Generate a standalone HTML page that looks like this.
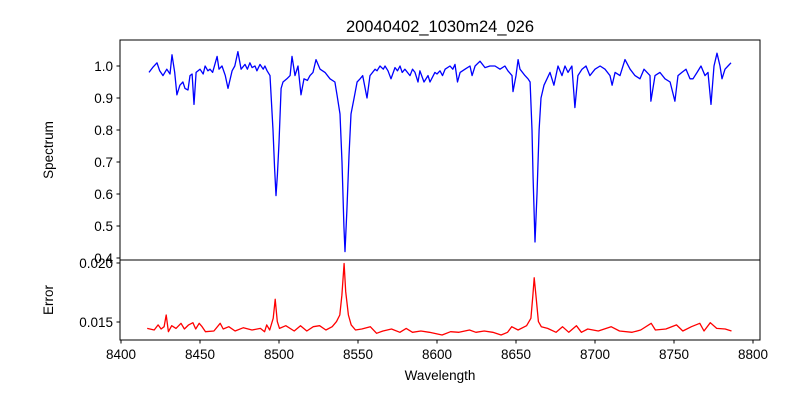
<!DOCTYPE html>
<html><head><meta charset="utf-8"><style>
body{margin:0;background:#fff;}
svg{display:block;font-family:"Liberation Sans","DejaVu Sans",sans-serif;}
</style></head><body>
<svg id="chart" width="800" height="400" viewBox="0 0 800 400">
<rect width="800" height="400" fill="#fff"/>
<text x="440" y="32" text-anchor="middle" font-size="16.5">20040402_1030m24_026</text>
<g id="plots"></g>
<rect x="120" y="40" width="640" height="220" fill="none" stroke="#000" stroke-width="1"/>
<rect x="120" y="260" width="640" height="80" fill="none" stroke="#000" stroke-width="1"/>
<g id="axes" font-size="13.5"></g>
<text transform="translate(53,150) rotate(-90)" text-anchor="middle" font-size="13.5">Spectrum</text>
<text transform="translate(53,300) rotate(-90)" text-anchor="middle" font-size="13.5">Error</text>
<text x="440" y="380" text-anchor="middle" font-size="13.5">Wavelength</text>
</svg>
<script>
const specWave=[8417.7,8420,8422.8,8424.5,8426.6,8429,8431,8432.3,8434,8435.4,8437.3,8439.2,8440.5,8442.4,8443.7,8445,8446.2,8447.5,8450,8452,8453.2,8455,8456.3,8458,8460.8,8462,8463.9,8466,8467.7,8470.3,8472,8474,8476,8478.5,8480,8481.6,8483,8484.8,8486,8488,8490,8491.1,8492.5,8494.3,8496.2,8497.2,8498.1,8499,8500,8501.3,8502.5,8505,8507,8508.2,8510.1,8512,8513.9,8515.8,8518,8519.6,8521.5,8523.4,8526,8529.1,8532.3,8535.4,8536.7,8538.6,8539.9,8541.1,8541.8,8543,8544.3,8545.6,8547.5,8549.4,8551.3,8553,8555.7,8557.6,8560.8,8562,8563.9,8566,8567.1,8569,8570.9,8573.4,8575,8576.6,8578,8579.7,8582.9,8584.5,8586.1,8588,8589.2,8591.8,8594.3,8595.6,8598.7,8600,8601.9,8603.5,8605.1,8608.2,8610,8611.4,8613,8614.6,8617.7,8620.9,8622.2,8224.1+400,8627.2,8630.4,8633.5,8636.7,8639.9,8643,8644.9,8647.5,8648.1,8650,8651.3,8652.5,8655.7,8657.6,8658.9,8660.1,8660.8,8662,8663.3,8664.6,8665.8,8667.7,8669.6,8671.5,8674,8676.6,8679.1,8681,8682.9,8685.4,8687.3,8689.2,8691.8,8694.3,8696.8,8700,8703.2,8706.3,8709.5,8710.8,8712.7,8715.8,8719,8722.2,8725.3,8728.5,8731,8734.8,8735.4,8738,8741.1,8744.3,8747.5,8750.6,8752.5,8755,8757.6,8760.1,8762,8764.6,8767.1,8769.6,8771.5,8773.4,8775.3,8777.2,8779.1,8780.4,8782.3,8784.2,8786.1];
const specFlux=[0.98,0.995,1.01,0.985,0.97,0.99,0.975,1.035,0.98,0.91,0.94,0.95,0.93,0.925,0.97,0.975,0.88,0.98,0.99,0.975,1.0,0.985,0.99,0.98,1.03,0.99,1.0,0.97,0.93,0.985,1.0,1.045,0.99,1.005,0.99,1.01,0.995,1.0,0.985,1.005,0.99,1.0,0.985,0.97,0.8,0.68,0.595,0.66,0.76,0.93,0.95,0.96,0.97,1.03,0.97,1.0,0.91,0.96,0.955,0.97,0.98,1.02,0.99,0.98,0.96,0.95,0.91,0.85,0.7,0.5,0.42,0.55,0.72,0.85,0.9,0.95,0.96,0.97,0.9,0.97,0.99,0.985,1.0,0.99,1.0,0.985,0.96,0.995,0.985,1.0,0.98,0.99,0.97,0.99,0.98,0.95,0.985,0.95,0.97,0.95,0.98,0.975,0.985,0.97,0.99,1.0,0.99,1.005,0.95,0.98,0.99,1.0,0.97,1.0,1.015,0.995,1.0,1.0,0.99,1.0,0.985,0.97,0.92,0.97,1.02,0.99,0.97,0.96,0.95,0.8,0.65,0.45,0.6,0.8,0.9,0.94,0.96,0.98,0.94,1.0,0.97,1.0,0.98,1.0,0.87,0.97,0.99,1.0,0.97,0.99,1.0,0.99,0.97,0.94,0.98,0.97,1.02,0.99,0.97,0.96,0.99,0.97,0.89,0.97,0.98,0.96,0.95,0.89,0.97,0.98,0.99,0.96,0.96,0.98,1.0,0.97,0.98,0.88,1.0,1.04,1.0,0.96,0.99,1.0,1.01];
const errWave=[8416.6,8421,8423.5,8425.4,8427.3,8428.6,8430,8432.1,8434.8,8438,8440.1,8442.8,8445.5,8447.3,8449.5,8451.3,8453.5,8458.8,8462.8,8464.7,8468.2,8472.2,8477.5,8482.9,8488.2,8490.9,8492.2,8494.1,8496.3,8497.6,8498.9,8500.3,8504.3,8509.6,8513.6,8517.6,8521.7,8525.7,8529.7,8533.7,8536.4,8538.5,8539.8,8541.2,8542.2,8543.9,8545.7,8548.4,8552.4,8557.8,8561.8,8565.8,8571.2,8576.5,8580.5,8584.5,8589.8,8595.2,8603.2,8608.6,8613.9,8620.6,8624.6,8629.9,8635.3,8640.6,8644.7,8647.3,8651.3,8656.7,8659.4,8660.7,8661.5,8662.6,8664.2,8666,8670,8675.4,8679.4,8683.4,8688.2,8691.4,8695.4,8702.1,8710.2,8715.5,8723.5,8728.9,8735.6,8738.2,8744.9,8751.6,8755.6,8761,8766.3,8769,8773,8777,8782.4,8786.4];
const errVal=[0.01446,0.01432,0.01475,0.01441,0.0146,0.01559,0.01418,0.01469,0.01446,0.01489,0.01441,0.01475,0.01494,0.01441,0.01489,0.0146,0.01418,0.01424,0.01489,0.01441,0.0146,0.01424,0.01452,0.01432,0.01446,0.01418,0.01475,0.01432,0.01531,0.01692,0.01503,0.01446,0.01469,0.01424,0.01469,0.01424,0.0146,0.01469,0.01432,0.0146,0.01503,0.01559,0.01728,0.01996,0.01757,0.01559,0.01475,0.01432,0.01441,0.0146,0.01404,0.01424,0.01441,0.01413,0.01446,0.01413,0.01424,0.01413,0.0139,0.01418,0.01413,0.01432,0.01413,0.01424,0.01413,0.0139,0.01413,0.0146,0.01432,0.01469,0.01531,0.01728,0.01875,0.01728,0.01503,0.0146,0.01446,0.01413,0.0146,0.01413,0.01469,0.01413,0.01441,0.01424,0.0146,0.01424,0.01413,0.01432,0.01489,0.01432,0.01441,0.01475,0.01424,0.0146,0.01489,0.01424,0.01494,0.01446,0.01441,0.01424];
const xTicks=[8400,8450,8500,8550,8600,8650,8700,8750,8800];
const specTicks=[0.4,0.5,0.6,0.7,0.8,0.9,1.0];
const errTicks=[0.015,0.020];
const NS="http://www.w3.org/2000/svg";
const xS=w=>121+(w-8400)*1.58;
const ySpec=v=>258-(v-0.4)*320;
const yErr=v=>322-(v-0.015)*11800;
const plots=document.getElementById('plots'),axes=document.getElementById('axes');
function mk(tag,attrs,parent){const e=document.createElementNS(NS,tag);for(const k in attrs)e.setAttribute(k,attrs[k]);parent.appendChild(e);return e;}
const sp=mk('polyline',{points:specWave.map((w,i)=>xS(w).toFixed(1)+','+ySpec(specFlux[i]).toFixed(1)).join(' '),fill:'none',stroke:'#0000ff','stroke-width':1.3,'stroke-linejoin':'round'},plots);


const er=mk('polyline',{points:errWave.map((w,i)=>xS(w).toFixed(1)+','+yErr(errVal[i]).toFixed(1)).join(' '),fill:'none',stroke:'#ff0000','stroke-width':1.3,'stroke-linejoin':'round'},plots);


xTicks.forEach(t=>{const x=xS(t);
 const l=mk('line',{x1:x,x2:x,y1:340,y2:343.5,stroke:'#000'},axes);
 
 
 const tx=mk('text',{x:x,y:359,'text-anchor':'middle'},axes);tx.textContent=t;
 
 });
specTicks.forEach(t=>{const y=ySpec(t);
 const l=mk('line',{x1:116.5,x2:120,y1:y,y2:y,stroke:'#000'},axes);
 
 
 const tx=mk('text',{x:113,y:y+5,'text-anchor':'end'},axes);tx.textContent=t.toFixed(1);
 
 });
errTicks.forEach(t=>{const y=yErr(t);
 const l=mk('line',{x1:116.5,x2:120,y1:y,y2:y,stroke:'#000'},axes);
 
 
 const tx=mk('text',{x:113,y:y+5,'text-anchor':'end'},axes);tx.textContent=t.toFixed(3);
 
 });
</script>
</body></html>
